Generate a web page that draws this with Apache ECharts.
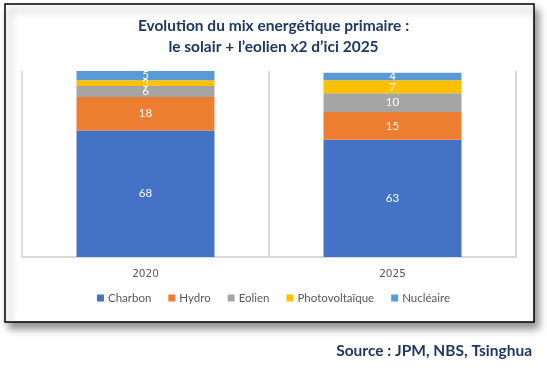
<!DOCTYPE html>
<html>
<head>
<meta charset="utf-8">
<script src="https://cdn.jsdelivr.net/npm/echarts@6/dist/echarts.min.js"></script>
<style>
html,body{margin:0;padding:0;background:#fff;}
#c{width:547px;height:372px;}
</style>
</head>
<body>
<div id="c"></div>
<script>
const categories = ['2020', '2025'];
const seriesNames = ['Charbon', 'Hydro', 'Eolien', 'Photovoltaïque', 'Nucléaire'];
const charbon = [68, 63];
const hydro = [18, 15];
const eolien = [6, 10];
const photovoltaique = [3, 7];
const nucleaire = [5, 4];
const colors = ['#4472C4', '#ED7D31', '#A5A5A5', '#FFC000', '#5B9BD5'];
const titleLines = ['Evolution du mix energétique primaire :', 'le solair + l\u2019eolien x2 d\u2019ici 2025'];
const sourceText = 'Source : JPM, NBS, Tsinghua';

const values = [charbon, hydro, eolien, photovoltaique, nucleaire];
const chart = echarts.init(document.getElementById('c'), null, {renderer: 'canvas'});
const titleColor = '#1F3864';

chart.setOption({
  animation: false,
  color: colors,
  graphic: [
    {type: 'rect', z: -10, zlevel: 0, silent: true,
     shape: {x: 5, y: 4, width: 529, height: 318},
     style: {fill: '#fff', stroke: '#000', lineWidth: 1.5,
             shadowBlur: 8, shadowOffsetX: 4, shadowOffsetY: 6, shadowColor: 'rgba(0,0,0,0.45)'}},
    {type: 'text', left: 'center', top: 15, z: 10,
     style: {text: titleLines.join('\n'), fill: titleColor, font: 'bold 15.5px Lato', textAlign: 'center', lineHeight: 21}},
    {type: 'text', right: 15, top: 343, z: 10,
     style: {text: sourceText, fill: titleColor, font: 'bold 15.5px Lato', textAlign: 'right'}}
  ],
  grid: {left: 22, right: 31, top: 71, height: 186, containLabel: false},
  legend: {
    data: seriesNames, bottom: 63, left: 'center',
    itemWidth: 7, itemHeight: 7, itemGap: 17, icon: 'rect',
    textStyle: {color: '#595959', fontSize: 11.5, fontFamily: 'Lato', padding: [0, 0, 0, -1]}
  },
  xAxis: {
    type: 'category', data: categories,
    axisLine: {show: true, lineStyle: {color: '#D9D9D9', width: 2}},
    axisTick: {show: false},
    splitLine: {show: true, lineStyle: {color: '#D9D9D9', width: 2}},
    axisLabel: {color: '#595959', fontSize: 10.5, fontFamily: 'DejaVu Sans', margin: 12}
  },
  yAxis: {type: 'value', min: 0, max: 100, show: false, splitLine: {show: false}},
  series: seriesNames.map((name, i) => ({
    name: name, type: 'bar', stack: 'total', barWidth: 138,
    data: values[i],
    label: {show: true, position: 'inside', color: '#fff', fontSize: 11.5, fontFamily: 'Lato'},
    itemStyle: {color: colors[i]}
  }))
});
</script>
</body>
</html>
